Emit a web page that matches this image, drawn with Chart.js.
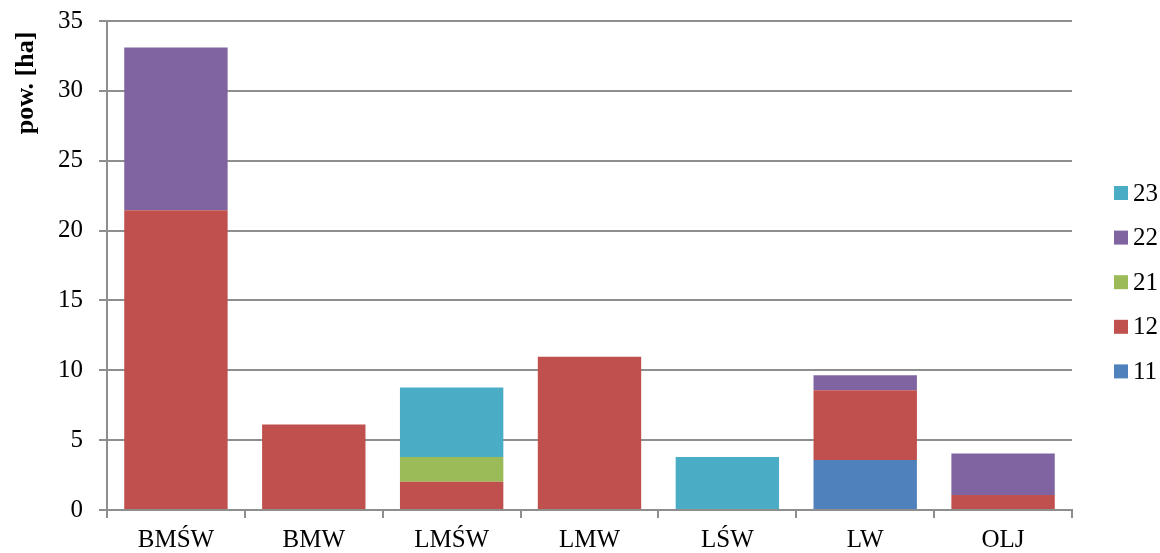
<!DOCTYPE html>
<html>
<head>
<meta charset="utf-8">
<script src="https://cdn.jsdelivr.net/npm/chart.js@4"></script>
<style>
  html, body { margin: 0; padding: 0; background: #fff; }
  #wrap { width: 1160px; height: 553px; }
</style>
</head>
<body>
<div id="wrap"><canvas id="chart"></canvas></div>
<script>
const categories = ['BMŚW', 'BMW', 'LMŚW', 'LMW', 'LŚW', 'LW', 'OLJ'];
const seriesNames = ['11', '12', '21', '22', '23'];
const s11 = [null, null, null, null, null, 3.57, null];
const s12 = [21.46, 6.12, 2.02, 10.97, null, 5.0, 1.07];
const s21 = [null, null, 1.78, null, null, null, null];
const s22 = [11.65, null, null, null, null, 1.07, 2.97];
const s23 = [null, null, 4.96, null, 3.8, null, null];
const yTitle = 'pow. [ha]';
const colors = ['#4F81BD', '#C0504D', '#9BBB59', '#8064A2', '#4BACC6'];

const serif = "'Liberation Serif', 'Times New Roman', serif";
const gridColor = '#8e8e8e';

// y title sits near the top of the axis, legend is a plain column on the right
const extras = {
    id: 'extras',
    afterDraw(chart) {
        const c = chart.ctx;
        const area = chart.chartArea;
        c.save();
        c.fillStyle = '#000';
        c.translate(area.left - 81, area.top + 62);
        c.rotate(-Math.PI / 2);
        c.textAlign = 'center';
        c.textBaseline = 'middle';
        c.font = 'bold 26px ' + serif;
        c.fillText(yTitle, 0, 0);
        c.restore();

        c.save();
        c.font = '25px ' + serif;
        c.textBaseline = 'middle';
        const sets = chart.data.datasets.slice().reverse();
        sets.forEach((ds, i) => {
            const cy = area.top + 172 + i * 44.6;
            const bx = area.right + 42;
            c.fillStyle = ds.backgroundColor;
            c.fillRect(bx, cy - 7, 14, 14);
            c.fillStyle = '#000';
            c.fillText(ds.label, bx + 19, cy + 1);
        });
        c.restore();
    }
};

const ctx = document.getElementById('chart');
new Chart(ctx, {
    type: 'bar',
    data: {
        labels: categories,
        datasets: [s11, s12, s21, s22, s23].map((d, i) => ({
            label: seriesNames[i],
            data: d,
            backgroundColor: colors[i],
            barPercentage: 0.75,
            categoryPercentage: 1.0
        }))
    },
    options: {
        responsive: true,
        maintainAspectRatio: false,
        animation: false,
        layout: { padding: { top: 21, right: 88, bottom: 0, left: 42 } },
        plugins: {
            tooltip: { enabled: false },
            legend: { display: false }
        },
        scales: {
            x: {
                stacked: true,
                afterFit: s => { s.height = 43; },
                grid: {
                    drawOnChartArea: false,
                    drawTicks: true,
                    tickLength: 8,
                    color: gridColor,
                    lineWidth: 2
                },
                border: { color: gridColor, width: 2 },
                ticks: {
                    color: '#000',
                    padding: 10,
                    font: { family: serif, size: 25, lineHeight: 1.0 }
                }
            },
            y: {
                stacked: true,
                min: 0,
                max: 35,
                afterFit: s => { s.paddingTop = 0; s.paddingBottom = 0; },
                ticks: {
                    stepSize: 5,
                    color: '#000',
                    padding: 16,
                    font: { family: serif, size: 25 }
                },
                grid: {
                    color: gridColor,
                    lineWidth: 2,
                    tickLength: 8
                },
                border: { color: gridColor, width: 2 }
            }
        }
    },
    plugins: [extras]
});
</script>
</body>
</html>
